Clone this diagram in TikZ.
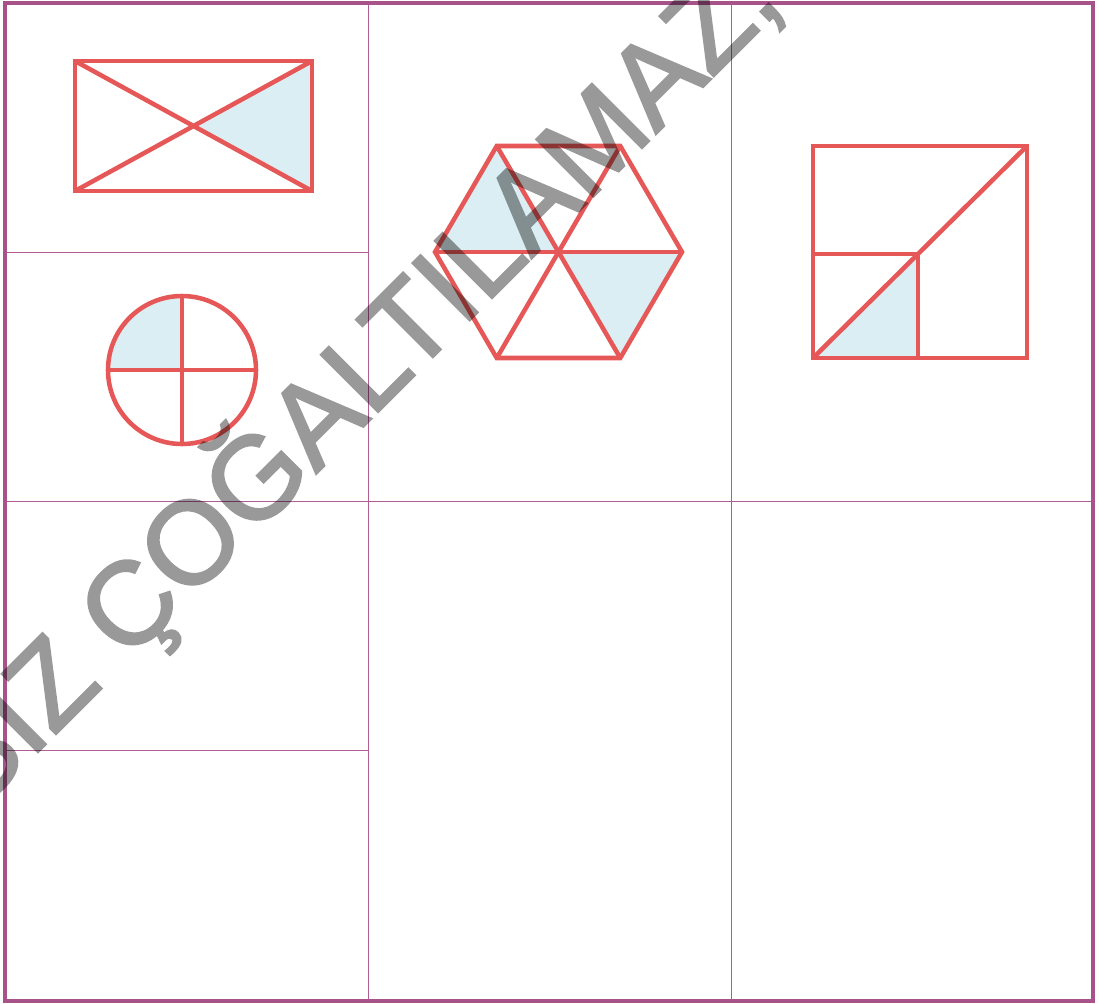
\documentclass[tikz,border=0pt]{standalone}
\usepackage{fontspec}
\newfontfamily\wmfont[FakeBold=2]{Liberation Sans}
\definecolor{framepurple}{RGB}{168,82,138}
\definecolor{gridpurple}{RGB}{178,92,150}
\definecolor{shapered}{RGB}{230,88,88}
\definecolor{shadeblue}{RGB}{219,238,243}
\begin{document}
\begin{tikzpicture}[x=0.75pt,y=-0.75pt,
  frameline/.style={draw=framepurple,line width=3pt},
  gridline/.style={draw=gridpurple,line width=1.1pt},
  redline/.style={draw=shapered,line width=3.4pt},
  shadefill/.style={fill=shadeblue},
  watermark/.style={text=black,font=\wmfont\fontsize{88}{88}\selectfont,inner sep=0pt}]
\useasboundingbox (0,0) rectangle (1099,1003);
\clip (0,0) rectangle (1099,1003);
\fill[white] (0,0) rectangle (1099,1003);

% grid
\coordinate (tl) at (5.3,2.7);
\coordinate (br) at (1092.5,1000.5);
\draw[gridline] (368.5,2.7) -- (368.5,1000.5);
\draw[gridline] (731.5,2.7) -- (731.5,1000.5);
\draw[gridline] (5.3,252.5) -- (368.5,252.5);
\draw[gridline] (5.3,501.5) -- (1092.5,501.5);
\draw[gridline] (5.3,750.5) -- (368.5,750.5);
\draw[frameline] (tl) rectangle (br);

% rectangle with diagonals
\coordinate (r1) at (75,61);
\coordinate (r2) at (312,61);
\coordinate (r3) at (312,191);
\coordinate (r4) at (75,191);
\coordinate (rc) at (193.5,126);
\fill[shadefill] (rc) -- (r2) -- (r3) -- cycle;
\draw[redline] (r1) -- (r2) -- (r3) -- (r4) -- cycle;
\draw[redline] (r1) -- (r3);
\draw[redline] (r2) -- (r4);

% circle in quarters
\coordinate (cc) at (182,370);
\begin{scope}
  \clip (100,290) rectangle (182,370);
  \fill[shadefill] (cc) circle[radius=74];
\end{scope}
\draw[redline] (cc) circle[radius=74];
\draw[redline] (108,370) -- (256,370);
\draw[redline] (182,296) -- (182,444);

% hexagon
\coordinate (hc) at (558.5,252);
\coordinate (h1) at (435,252);
\coordinate (h2) at (496.75,146);
\coordinate (h3) at (620.25,146);
\coordinate (h4) at (682,252);
\coordinate (h5) at (620.25,358);
\coordinate (h6) at (496.75,358);
\fill[shadefill] (h1) -- (h2) -- (hc) -- cycle;
\fill[shadefill] (hc) -- (h4) -- (h5) -- cycle;
\draw[redline] (h1) -- (h2) -- (h3) -- (h4) -- (h5) -- (h6) -- cycle;
\draw[redline] (h1) -- (h4);
\draw[redline] (h2) -- (h5);
\draw[redline] (h3) -- (h6);

% square
\coordinate (s1) at (813,146);
\coordinate (s2) at (1027,146);
\coordinate (s3) at (1027,358);
\coordinate (s4) at (813,358);
\coordinate (s5) at (813,254);
\coordinate (s6) at (918,254);
\coordinate (s7) at (918,358);
\fill[shadefill] (s4) -- (s6) -- (s7) -- cycle;
\draw[redline] (s1) -- (s2) -- (s3) -- (s4) -- cycle;
\draw[redline] (s5) -- (s6) -- (s7);
\draw[redline] (s4) -- (s2);

% watermark
\begin{scope}[transparency group,opacity=0.4]
\node[watermark,rotate=45,anchor=base east] (wm) at (785,5) {SIZ ÇOĞALTILAMAZ,};
\end{scope}
\end{tikzpicture}
\end{document}
